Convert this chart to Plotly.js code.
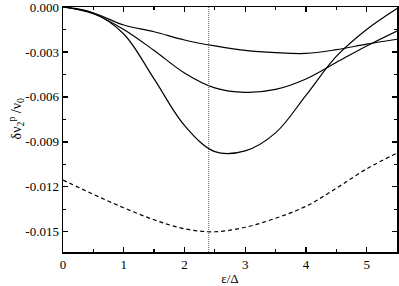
<!DOCTYPE html>
<html>
<head>
<meta charset="utf-8">
<script src="https://cdn.plot.ly/plotly-3.0.1.min.js"></script>
<style>
  html, body { margin: 0; padding: 0; background: #fff; }
  #chart { width: 399px; height: 286px; }
</style>
</head>
<body>
<div id="chart"></div>
<script>
// values
const xs = [0, 0.5, 1, 1.5, 2, 2.5, 3, 3.5, 4, 4.5, 5, 5.5];
const yShallow = [0, -0.0004, -0.0012, -0.00165, -0.0022, -0.0026, -0.0029, -0.00305, -0.0031, -0.00285, -0.00248, -0.00215];
const yMiddle = [0, -0.00045, -0.0015, -0.0029, -0.0044, -0.0054, -0.0057, -0.0055, -0.0048, -0.0037, -0.0026, -0.0016];
const yDeep = [0, -0.0004, -0.0018, -0.0048, -0.0079, -0.00965, -0.0096, -0.0084, -0.0059, -0.0033, -0.0015, -0.0001];
const yDashed = [-0.01155, -0.0125, -0.0134, -0.0142, -0.0148, -0.0150, -0.0147, -0.0141, -0.0133, -0.0121, -0.0108, -0.00975];

const markerX = 2.4;

const xTickVals = [0, 1, 2, 3, 4, 5];
const xTickText = ["0", "1", "2", "3", "4", "5"];
const yTickVals = [0, -0.003, -0.006, -0.009, -0.012, -0.015];
const yTickText = ["0.000", "-0.003", "-0.006", "-0.009", "-0.012", "-0.015"];

const serif = "Liberation Serif";

function solid(y) {
  return {
    x: xs, y,
    type: "scatter",
    mode: "lines",
    line: { color: "#000", width: 1.2, shape: "spline", smoothing: 1 },
    hoverinfo: "skip"
  };
}

const traces = [
  solid(yShallow),
  solid(yMiddle),
  solid(yDeep),
  {
    x: xs,
    y: yDashed,
    type: "scatter",
    mode: "lines",
    line: { color: "#000", width: 1.2, dash: "4px,3px", shape: "spline" },
    hoverinfo: "skip"
  }
];

const axisCommon = {
  showline: true,
  linecolor: "#000",
  linewidth: 1.5,
  mirror: "allticks",
  ticks: "inside",
  ticklen: 5,
  tickwidth: 1.3,
  tickcolor: "#000",
  showgrid: false,
  zeroline: false,
  ticklabeloverflow: "allow",
  tickfont: { family: serif, size: 13, color: "#000" }
};

const layout = {
  width: 399,
  height: 286,
  margin: { l: 63, r: 2, t: 7, b: 34 },
  paper_bgcolor: "#fff",
  plot_bgcolor: "#fff",
  showlegend: false,
  xaxis: Object.assign({}, axisCommon, {
    range: [0, 5.5],
    tickmode: "array",
    tickvals: xTickVals,
    ticktext: xTickText,
    minor: { ticks: "inside", ticklen: 3, tickwidth: 1.2, tickcolor: "#000", tickmode: "linear", tick0: 0, dtick: 0.5 },
    title: { text: "ε/Δ", font: { family: serif, size: 13, color: "#000" }, standoff: 4 }
  }),
  yaxis: Object.assign({}, axisCommon, {
    range: [-0.01635, 0],
    tickmode: "array",
    tickvals: yTickVals,
    ticktext: yTickText,
    minor: { ticks: "inside", ticklen: 3, tickwidth: 1.2, tickcolor: "#000", tickmode: "linear", tick0: 0, dtick: 0.0015 }
  }),
  annotations: [{
    text: "δν<sub>2</sub><sup>p</sup> /ν<sub>0</sub>",
    xref: "paper",
    yref: "paper",
    x: -0.14,
    y: 0.542,
    xanchor: "center",
    yanchor: "middle",
    textangle: -90,
    showarrow: false,
    font: { family: serif, size: 14, color: "#000" }
  }],
  shapes: [{
    type: "line",
    xref: "x",
    yref: "paper",
    x0: markerX,
    x1: markerX,
    y0: 0,
    y1: 1,
    line: { color: "#555", width: 1, dash: "1px,1px" }
  }]
};

Plotly.newPlot("chart", traces, layout, { staticPlot: true, displayModeBar: false });
</script>
</body>
</html>
